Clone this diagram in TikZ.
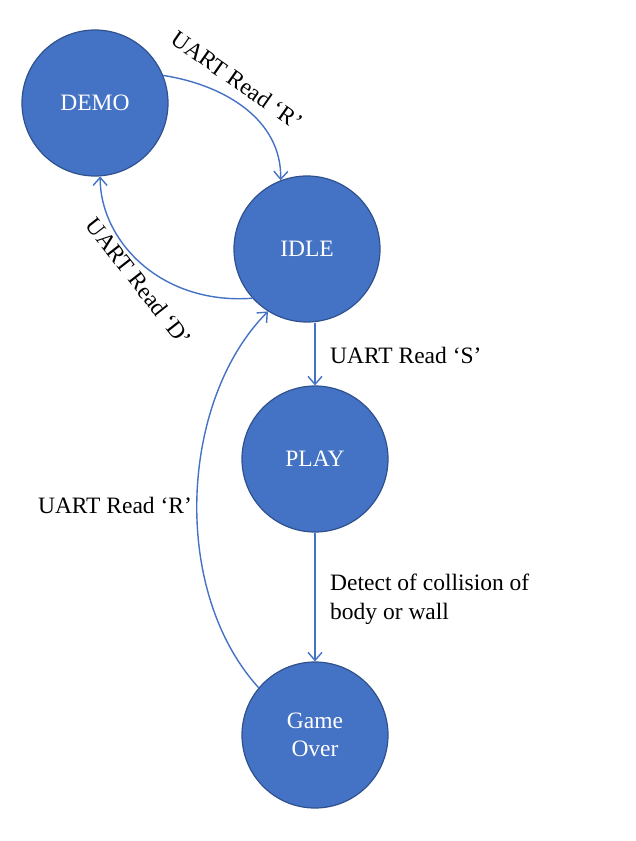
\documentclass[tikz,border=0pt]{standalone}
\usepackage{fontspec}
\setmainfont{Liberation Serif}
\usetikzlibrary{arrows.meta}
\definecolor{stfill}{HTML}{4472C4}
\definecolor{stedge}{HTML}{2F528F}
\definecolor{arr}{HTML}{4472C4}
\begin{document}
\begin{tikzpicture}[x=1pt,y=-1pt,
  state/.style={circle,fill=stfill,draw=stedge,line width=1.2pt,minimum size=146pt,inner sep=0pt,text=white,align=center,font=\fontsize{23.5}{28}\selectfont},
  conn/.style={draw=arr,line width=1.4pt,-{Straight Barb[length=8pt,width=14pt,line width=1.4pt]}},
  lbl/.style={font=\fontsize{23.5}{29}\selectfont,text=black,inner sep=0pt}]
\useasboundingbox (0,0) rectangle (636,841);
\node[state] (demo) at (95,103) {DEMO};
\node[state] (idle) at (307,249) {IDLE};
\node[state] (play) at (315,459) {PLAY};
\node[state] (over) at (315,735) {Game\\Over};
% DEMO -> IDLE
\draw[conn] (demo.22) .. controls (225,85) and (282,120) .. (idle.111);
% IDLE -> DEMO
\draw[conn] (idle.222) .. controls (160,305) and (100,240) .. (demo.-86);
% IDLE -> PLAY
\draw[conn] (play.north |- idle.south) -- (play.north);
% PLAY -> Game Over
\draw[conn] (play.south) -- (over.north);
% Game Over -> IDLE
\draw[conn] (over.140) .. controls (170,590) and (180,400) .. (idle.238);
% labels
\node[lbl,rotate=-35] (l1) at (237,80) {UART Read ‘R’};
\node[lbl,rotate=-52] (l2) at (139,282) {UART Read ‘D’};
\node[lbl,anchor=west] (l3) at (330,355) {UART Read ‘S’};
\node[lbl,anchor=north west,align=left] (l4) at (330,574) {Detect of collision of\\body or wall};
\node[lbl] (l5) at (115,505) {UART Read ‘R’};
\end{tikzpicture}
\end{document}
